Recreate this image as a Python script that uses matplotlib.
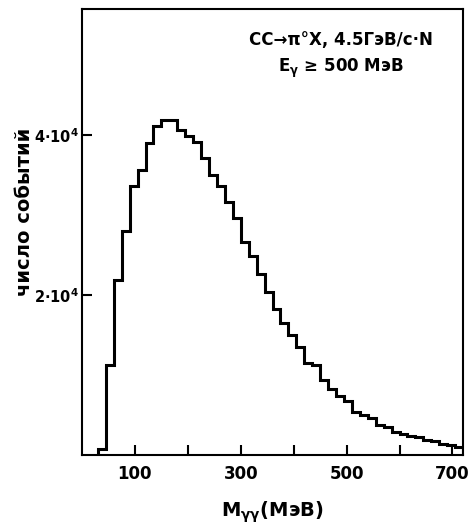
import numpy as np
import matplotlib
matplotlib.use("Agg")
import matplotlib.pyplot as plt

# гистограмма M_γγ, бины по 15 МэВ от 30 до 720 МэВ
bin_lo, bin_hi, bin_w = 30, 720, 15
counts = [700, 11250, 21900, 28000, 33600, 35600, 39000, 41200, 41900, 41900,
          40700, 39900, 39200, 37100, 35000, 33700, 31700, 29600, 26700, 24900,
          22700, 20400, 18300, 16500, 15000, 13500, 11500, 11200, 9400, 8300,
          7400, 6700, 5400, 5000, 4600, 3800, 3500, 2900, 2600, 2400,
          2300, 1900, 1750, 1400, 1200, 1000]
edges = np.arange(bin_lo, bin_hi + 1, bin_w)

x_ticks = [100, 200, 300, 400, 500, 600, 700]
x_labels = ["100", "", "300", "", "500", "", "700"]
y_ticks = [2e4, 4e4]
y_labels = [r"$2{\cdot}10^4$", r"$4{\cdot}10^4$"]

plt.rcParams["font.weight"] = "bold"
plt.rcParams["axes.labelweight"] = "bold"
plt.rcParams["mathtext.default"] = "bf"

fig = plt.figure(figsize=(4.73, 5.29), dpi=100)
ax = fig.add_axes([0.1734, 0.1399, 0.8055, 0.843])

ax.stairs(counts, edges, color="black", linewidth=2.2, baseline=0)

ax.set_xlim(0, 720)
ax.set_ylim(0, 55800)
ax.set_xticks(x_ticks)
ax.set_xticklabels(x_labels, fontsize=12)
ax.set_yticks(y_ticks)
ax.set_yticklabels(y_labels, fontsize=10.5)
ax.tick_params(direction="in", length=7, width=1.5)
ax.tick_params(axis="y", pad=2)
ax.tick_params(axis="x", pad=7)
for s in ax.spines.values():
    s.set_linewidth(1.5)

ax.set_xlabel("M$_{\\gamma\\gamma}$(МэВ)", fontsize=14, labelpad=12)
ax.set_ylabel("число событий", fontsize=14)
ax.yaxis.set_label_coords(-0.125, 0.545)

ax.text(0.68, 0.93, "CC→π°X, 4.5ГэВ/c·N", transform=ax.transAxes,
        ha="center", va="center", fontsize=12)
ax.text(0.68, 0.866, "E$_\\gamma$ ≥ 500 МэВ", transform=ax.transAxes,
        ha="center", va="center", fontsize=12)

fig.savefig("out.png", dpi=100)
